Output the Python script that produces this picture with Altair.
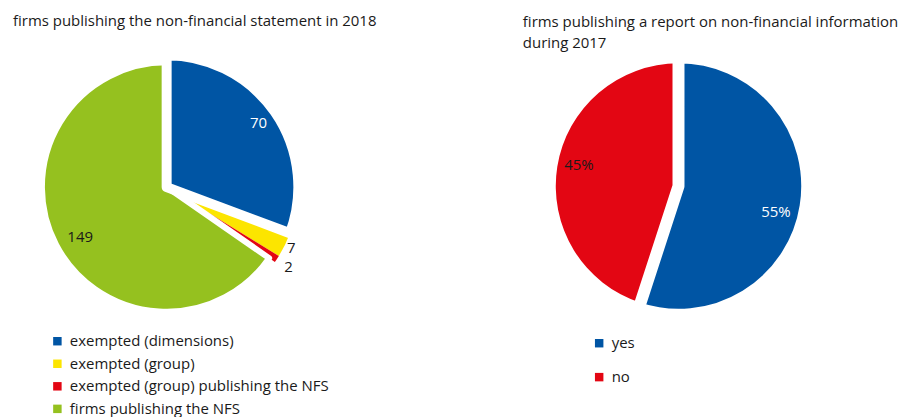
import altair as alt
import pandas as pd

# ---- data ----
left_categories = ["exempted (dimensions)", "exempted (group)",
                   "exempted (group) publishing the NFS", "firms publishing the NFS"]
left_values = [70, 7, 2, 149]
left_labels = ["70", "7", "2", "149"]
left_colors = ["#0055A4", "#FCE500", "#E30613", "#95C11F"]

right_categories = ["yes", "no"]
right_values = [55, 45]
right_labels = ["55%", "45%"]
right_colors = ["#0055A4", "#E30613"]

left_title = "firms publishing the non-financial statement in 2018"
right_title = ["firms publishing a report on non-financial information", "during 2017"]

FONT = "Open Sans"
FS = 15
TXT = "#1a1a1a"

df_left = pd.DataFrame({"idx": range(len(left_values)), "cat": left_categories,
                        "value": left_values, "label": left_labels})
df_right = pd.DataFrame({"idx": range(len(right_values)), "cat": right_categories,
                         "value": right_values, "label": right_labels})


def prep(df):
    return (alt.Chart(df)
            .transform_joinaggregate(total="sum(value)")
            .transform_window(cum="sum(value)", sort=[alt.SortField("idx")], frame=[None, 0])
            .transform_calculate(
                t1="(datum.cum - datum.value) / datum.total * 2 * PI",
                t2="datum.cum / datum.total * 2 * PI",
            )
            .transform_calculate(tm="(datum.t1 + datum.t2) / 2"))


def arcs(base, cats, radius, colors, domain, legend):
    return (base.transform_filter(alt.FieldOneOfPredicate(field="cat", oneOf=cats))
            .mark_arc(stroke=None)
            .encode(theta=alt.Theta("t1:Q", scale=None), theta2="t2:Q",
                    radius=alt.value(radius),
                    color=alt.Color("cat:N", title=None,
                                    scale=alt.Scale(domain=domain, range=colors),
                                    sort=domain, legend=legend)))


def gaps(base, cats, radius, width):
    return (base.transform_filter(alt.FieldOneOfPredicate(field="cat", oneOf=cats))
            .mark_arc(fillOpacity=0, stroke="white", strokeWidth=width, strokeJoin="round")
            .encode(theta=alt.Theta("t1:Q", scale=None), theta2="t2:Q",
                    radius=alt.value(radius)))


def labels(base, cats, radius, color, shift=0.0):
    return (base.transform_filter(alt.FieldOneOfPredicate(field="cat", oneOf=cats))
            .mark_text(font=FONT, fontSize=FS, color=color, align="center", baseline="middle",
                       thetaOffset=shift)
            .encode(theta=alt.Theta("tm:Q", scale=None), radius=alt.value(radius),
                    text="label:N"))


# ---- left pie ----
bl = prep(df_left)
leg_left = alt.Legend(orient="none", legendX=42, legendY=285, symbolType="square",
                      symbolSize=72, symbolStrokeWidth=0, labelFont=FONT, labelFontSize=FS,
                      labelColor=TXT, rowPadding=6.6, labelOffset=5, labelLimit=400)
left = alt.layer(
    arcs(bl, [left_categories[3]], 125, left_colors, left_categories, leg_left),
    arcs(bl, left_categories[:3], 132, left_colors, left_categories, leg_left),
    gaps(bl, [left_categories[0]], 132, 10),
    gaps(bl, [left_categories[3]], 125, 6),
    labels(bl, [left_categories[0]], 112, "white"),
    labels(bl, [left_categories[3]], 100, TXT, -0.04),
    labels(bl, [left_categories[1]], 139, TXT),
    labels(bl, [left_categories[2]], 146, TXT),
).properties(width=318, height=276,
             title=alt.TitleParams(left_title, anchor="start", font=FONT, fontSize=FS,
                                   fontWeight="normal", color=TXT, dx=5, dy=-16))

# ---- right pie ----
br = prep(df_right)
leg_right = alt.Legend(orient="none", legendX=69, legendY=287, symbolType="square",
                       symbolSize=72, symbolStrokeWidth=0, labelFont=FONT, labelFontSize=FS,
                       labelColor=TXT, rowPadding=18, labelOffset=5)
right = alt.layer(
    arcs(br, [right_categories[1]], 123, right_colors, right_categories, leg_right),
    arcs(br, [right_categories[0]], 129, right_colors, right_categories, leg_right),
    gaps(br, [right_categories[0]], 129, 12),
    labels(br, [right_categories[0]], 101, "white", 0.1),
    labels(br, [right_categories[1]], 102, TXT, 0.05),
).properties(width=312, height=274,
             title=alt.TitleParams(right_title, anchor="start", font=FONT, fontSize=FS,
                                   fontWeight="normal", color=TXT, lineHeight=21, dy=6))

chart = (alt.hconcat(left, right, spacing=198, bounds="flush")
         .resolve_scale(color="independent")
         .resolve_legend(color="independent")
         .properties(padding={"top": 6, "left": 0, "right": 0, "bottom": 0})
         .configure_view(stroke=None))

chart.save("out.html", embed_options={"renderer": "svg", "actions": False})
